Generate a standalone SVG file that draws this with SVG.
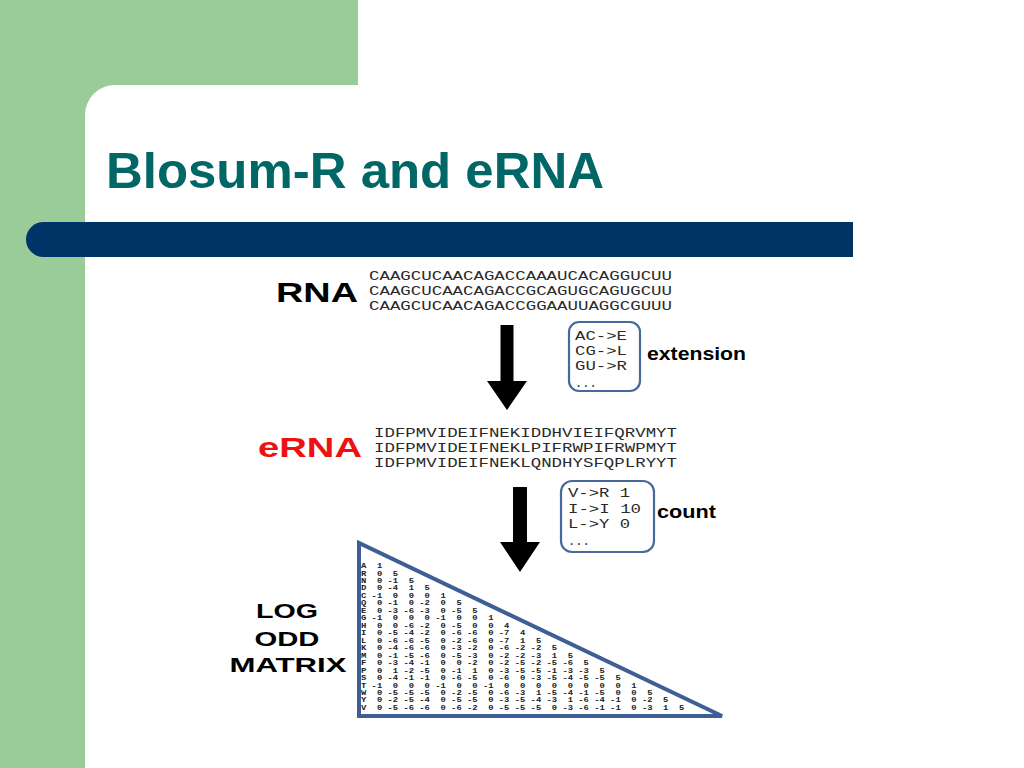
<svg xmlns="http://www.w3.org/2000/svg" width="1024" height="768" viewBox="0 0 1024 768">
<style>
.title{font-family:"Liberation Sans",Arial,sans-serif;font-weight:bold;font-size:50px;fill:#006666}
.big{font-family:"Liberation Sans",Arial,sans-serif;font-weight:bold;font-size:28px;fill:#000}
.lbl{font-family:"Liberation Sans",Arial,sans-serif;font-weight:bold;font-size:19px;fill:#000}
.mat{font-family:"Liberation Sans",Arial,sans-serif;font-weight:bold;font-size:21px;fill:#000}
.seq{font-family:"Liberation Mono","Courier New",monospace;font-size:12px;fill:#2a2a2a}
.box{fill:#fff;stroke:#47699e;stroke-width:2.2}
.arrow{fill:#000}
.cell{font-family:"Liberation Mono","Courier New",monospace;font-weight:bold;font-size:7px;fill:#222;white-space:pre}
</style>
<g id="background">
<rect x="0" y="0" width="1024" height="768" fill="#fff"/>
<path d="M0 0H358V85H115A30 30 0 0 0 85 115V768H0Z" fill="#99cc99"/>
<path d="M43.5 222H853V257H43.5A17.5 17.5 0 0 1 43.5 222Z" fill="#003366"/>
<text class="title" x="106" y="188" textLength="498" lengthAdjust="spacingAndGlyphs">Blosum-R and eRNA</text>
</g>
<g id="connectors">
<polygon class="arrow" points="500.5,325 513.5,325 513.5,381 527,381 507,410 487,381 500.5,381"/>
<polygon class="arrow" points="513,487 527,487 527,542 540,542 520,572 500,542 513,542"/>
</g>
<g id="rna">
<text class="big" x="276" y="302" textLength="82" lengthAdjust="spacingAndGlyphs">RNA</text>
<text class="seq" x="369" y="280" textLength="303" lengthAdjust="spacingAndGlyphs">CAAGCUCAACAGACCAAAUCACAGGUCUU</text>
<text class="seq" x="369" y="295" textLength="303" lengthAdjust="spacingAndGlyphs">CAAGCUCAACAGACCGCAGUGCAGUGCUU</text>
<text class="seq" x="369" y="310" textLength="303" lengthAdjust="spacingAndGlyphs">CAAGCUCAACAGACCGGAAUUAGGCGUUU</text>
</g>
<g id="extension">
<rect class="box" x="569" y="322" width="71" height="69" rx="10"/>
<text class="seq" x="575" y="340" textLength="52" lengthAdjust="spacingAndGlyphs">AC-&gt;E</text>
<text class="seq" x="575" y="355" textLength="52" lengthAdjust="spacingAndGlyphs">CG-&gt;L</text>
<text class="seq" x="575" y="370" textLength="52" lengthAdjust="spacingAndGlyphs">GU-&gt;R</text>
<text class="seq" x="575" y="387">...</text>
<text class="lbl" x="647" y="360" textLength="99" lengthAdjust="spacingAndGlyphs">extension</text>
</g>
<g id="erna">
<text class="big" x="258" y="457" textLength="104" lengthAdjust="spacingAndGlyphs" style="fill:#ee1111">eRNA</text>
<text class="seq" x="374" y="437" textLength="303" lengthAdjust="spacingAndGlyphs">IDFPMVIDEIFNEKIDDHVIEIFQRVMYT</text>
<text class="seq" x="374" y="452" textLength="303" lengthAdjust="spacingAndGlyphs">IDFPMVIDEIFNEKLPIFRWPIFRWPMYT</text>
<text class="seq" x="374" y="467" textLength="303" lengthAdjust="spacingAndGlyphs">IDFPMVIDEIFNEKLQNDHYSFQPLRYYT</text>
</g>
<g id="count">
<rect class="box" x="561" y="481" width="93" height="71" rx="11"/>
<text class="seq" x="568" y="497" textLength="62" lengthAdjust="spacingAndGlyphs">V-&gt;R 1</text>
<text class="seq" x="568" y="513" textLength="73" lengthAdjust="spacingAndGlyphs">I-&gt;I 10</text>
<text class="seq" x="568" y="528" textLength="62" lengthAdjust="spacingAndGlyphs">L-&gt;Y 0</text>
<text class="seq" x="568" y="545">...</text>
<text class="lbl" x="657" y="518" textLength="59" lengthAdjust="spacingAndGlyphs">count</text>
</g>
<g id="matrix">
<polygon points="359,543 359,716 722,716" fill="#fff" stroke="#3d5f95" stroke-width="4" stroke-linejoin="miter"/>
<text class="mat" x="287" y="618" text-anchor="middle" textLength="62" lengthAdjust="spacingAndGlyphs">LOG</text>
<text class="mat" x="287" y="646" text-anchor="middle" textLength="65" lengthAdjust="spacingAndGlyphs">ODD</text>
<text class="mat" x="288" y="672" text-anchor="middle" textLength="117" lengthAdjust="spacingAndGlyphs">MATRIX</text>
<text class="cell" xml:space="preserve" x="361" y="568" textLength="21.2" lengthAdjust="spacingAndGlyphs">A  1</text>
<text class="cell" xml:space="preserve" x="361" y="575.5" textLength="37.1" lengthAdjust="spacingAndGlyphs">R  0  5</text>
<text class="cell" xml:space="preserve" x="361" y="583" textLength="53" lengthAdjust="spacingAndGlyphs">N  0 -1  5</text>
<text class="cell" xml:space="preserve" x="361" y="590.4" textLength="68.9" lengthAdjust="spacingAndGlyphs">D  0 -4  1  5</text>
<text class="cell" xml:space="preserve" x="361" y="597.9" textLength="84.8" lengthAdjust="spacingAndGlyphs">C -1  0  0  0  1</text>
<text class="cell" xml:space="preserve" x="361" y="605.4" textLength="100.7" lengthAdjust="spacingAndGlyphs">Q  0 -1  0 -2  0  5</text>
<text class="cell" xml:space="preserve" x="361" y="612.8" textLength="116.6" lengthAdjust="spacingAndGlyphs">E  0 -3 -6 -3  0 -5  5</text>
<text class="cell" xml:space="preserve" x="361" y="620.3" textLength="132.5" lengthAdjust="spacingAndGlyphs">G -1  0  0  0 -1  0  0  1</text>
<text class="cell" xml:space="preserve" x="361" y="627.8" textLength="148.4" lengthAdjust="spacingAndGlyphs">H  0  0 -6 -2  0 -5  0  0  4</text>
<text class="cell" xml:space="preserve" x="361" y="635.2" textLength="164.3" lengthAdjust="spacingAndGlyphs">I  0 -5 -4 -2  0 -6 -6  0 -7  4</text>
<text class="cell" xml:space="preserve" x="361" y="642.7" textLength="180.2" lengthAdjust="spacingAndGlyphs">L  0 -6 -6 -5  0 -2 -6  0 -7  1  5</text>
<text class="cell" xml:space="preserve" x="361" y="650.2" textLength="196.1" lengthAdjust="spacingAndGlyphs">K  0 -4 -6 -6  0 -3 -2  0 -6 -2 -2  5</text>
<text class="cell" xml:space="preserve" x="361" y="657.6" textLength="212" lengthAdjust="spacingAndGlyphs">M  0 -1 -5 -6  0 -5 -3  0 -2 -2 -3  1  5</text>
<text class="cell" xml:space="preserve" x="361" y="665.1" textLength="227.9" lengthAdjust="spacingAndGlyphs">F  0 -3 -4 -1  0  0 -2  0 -2 -5 -2 -5 -6  5</text>
<text class="cell" xml:space="preserve" x="361" y="672.6" textLength="243.8" lengthAdjust="spacingAndGlyphs">P  0  1 -2 -5  0 -1  1  0 -3 -5 -5 -1 -3 -3  5</text>
<text class="cell" xml:space="preserve" x="361" y="680" textLength="259.7" lengthAdjust="spacingAndGlyphs">S  0 -4 -1 -1  0 -6 -5  0 -6  0 -3 -5 -4 -5 -5  5</text>
<text class="cell" xml:space="preserve" x="361" y="687.5" textLength="275.6" lengthAdjust="spacingAndGlyphs">T -1  0  0  0 -1  0  0 -1  0  0  0  0  0  0  0  0  1</text>
<text class="cell" xml:space="preserve" x="361" y="695" textLength="291.5" lengthAdjust="spacingAndGlyphs">W  0 -5 -5 -5  0 -2 -5  0 -6 -3  1 -5 -4 -1 -5  0  0  5</text>
<text class="cell" xml:space="preserve" x="361" y="702.4" textLength="307.4" lengthAdjust="spacingAndGlyphs">Y  0 -2 -5 -4  0 -5 -5  0 -3 -5 -4 -3  1 -6 -4 -1  0 -2  5</text>
<text class="cell" xml:space="preserve" x="361" y="709.9" textLength="323.3" lengthAdjust="spacingAndGlyphs">V  0 -5 -6 -6  0 -6 -2  0 -5 -5 -5  0 -3 -6 -1 -1  0 -3  1  5</text>
</g>
</svg>
